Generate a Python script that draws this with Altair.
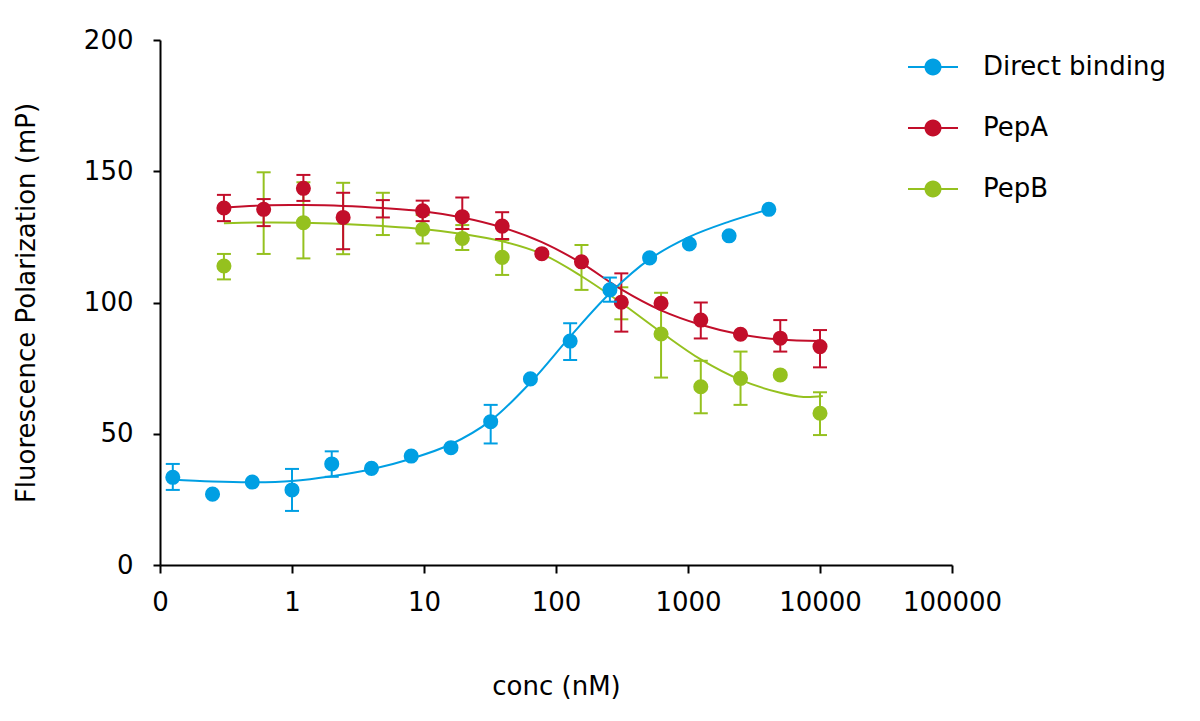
import altair as alt
import pandas as pd

# ---------------- data ----------------
series_names = ["Direct binding", "PepA", "PepB"]
series_colors = ["#009FE3", "#C20E2A", "#95C11F"]
draw_order = ["PepB", "PepA", "Direct binding"]

db_conc = [0.125, 0.25, 0.5, 1, 2, 4, 8, 16, 32, 64, 128, 256, 512, 1024, 2048, 4096]
db_value = [33.4, 27.0, 31.6, 28.6, 38.5, 36.8, 41.5, 44.7, 54.6, 70.9, 85.3, 104.8, 117.0, 122.3, 125.4, 135.5]
db_lo = [28.6, None, None, 20.6, 33.6, None, None, None, 46.3, None, 78.1, 100.3, None, None, None, None]
db_hi = [38.5, None, None, 36.6, 43.3, None, None, None, 61.0, None, 92.1, 109.5, None, None, None, None]

pep_conc = [0.305, 0.61, 1.22, 2.44, 4.88, 9.77, 19.5, 39.1, 78.1, 156, 312.5, 625, 1250, 2500, 5000, 10000]
pepa_value = [136.0, 135.5, 143.5, 132.4, None, 134.9, 132.7, 129.1, 118.6, 115.5, 100.1, 99.7, 93.3, 87.9, 86.4, 83.2]
pepa_lo = [131.0, 129.1, 138.7, 120.3, 132.4, 131.0, 128.0, 124.2, None, None, 88.9, None, 86.3, None, 81.3, 75.3]
pepa_hi = [141.0, 139.4, 148.6, 141.8, 139.0, 138.8, 140.0, 134.4, None, None, 111.1, None, 100.0, None, 93.3, 89.5]

pepb_value = [113.9, None, 130.4, None, None, 127.9, 124.4, 117.2, None, None, None, 88.0, 67.9, 71.1, 72.4, 57.8]
pepb_lo = [108.8, 118.5, 116.8, 118.4, 125.7, 122.5, 120.0, 110.5, None, 104.8, 93.6, 71.4, 57.8, 61.0, None, 49.5]
pepb_hi = [118.5, 149.6, 145.8, 145.6, 141.8, 133.3, 129.5, 123.8, None, 121.9, 105.8, 103.7, 77.8, 81.3, None, 65.8]

# fitted curves
db_curve_conc = [0.12, 0.25, 0.5, 1, 2, 4, 8, 16, 32, 64, 128, 256, 512, 1024, 2048, 4096]
db_curve_value = [32.6, 31.8, 31.5, 32.0, 33.8, 36.5, 40.5, 46.0, 55.0, 69.5, 87.0, 103.5, 116.5, 125.0, 130.8, 135.5]
pepa_curve_conc = [0.305, 0.61, 1.22, 2.44, 4.88, 9.77, 19.5, 39.1, 78.1, 156, 312.5, 625, 1250, 2500, 5000, 10000]
pepa_curve_value = [136.2, 137.0, 137.1, 136.8, 136.0, 134.8, 132.4, 128.6, 123.0, 115.0, 105.0, 97.0, 91.5, 87.8, 85.9, 85.3]
pepb_curve_conc = [0.305, 0.61, 1.22, 2.44, 4.88, 9.77, 19.5, 39.1, 78.1, 156, 312.5, 625, 1250, 2500, 5000, 7500, 10500]
pepb_curve_value = [130.2, 130.5, 130.4, 129.9, 129.1, 128.0, 126.1, 123.3, 118.5, 110.0, 99.8, 88.7, 78.3, 70.5, 65.6, 64.0, 64.4]

x_tick_values = [0.1, 1, 10, 100, 1000, 10000, 100000]
y_tick_values = [0, 50, 100, 150, 200]

# ---------------- tables ----------------
def rows(name, conc, value, lo, hi):
    return pd.DataFrame({"series": name, "conc": conc, "value": value, "lo": lo, "hi": hi})

points = pd.concat([
    rows("Direct binding", db_conc, db_value, db_lo, db_hi),
    rows("PepA", pep_conc, pepa_value, pepa_lo, pepa_hi),
    rows("PepB", pep_conc, pepb_value, pepb_lo, pepb_hi),
], ignore_index=True)

curves = pd.concat([
    pd.DataFrame({"series": "Direct binding", "conc": db_curve_conc, "value": db_curve_value}),
    pd.DataFrame({"series": "PepA", "conc": pepa_curve_conc, "value": pepa_curve_value}),
    pd.DataFrame({"series": "PepB", "conc": pepb_curve_conc, "value": pepb_curve_value}),
], ignore_index=True)

FONT = "DejaVu Sans"
color_scale = alt.Scale(domain=series_names, range=series_colors)
color_of = dict(zip(series_names, series_colors))

x_enc = alt.X(
    "conc:Q",
    scale=alt.Scale(type="log", domain=[0.1, 100000]),
    axis=alt.Axis(
        values=x_tick_values,
        labelExpr="datum.value < 0.5 ? '0' : format(datum.value, 'd')",
        title="conc (nM)",
        grid=False,
        tickSize=8,
        labelPadding=16,
        titlePadding=58,
        labelFlush=False,
        labelOverlap=False,
    ),
)
y_enc = alt.Y(
    "value:Q",
    scale=alt.Scale(domain=[0, 200]),
    axis=alt.Axis(
        values=y_tick_values,
        title="Fluorescence Polarization (mP)",
        grid=False,
        tickSize=7,
        labelPadding=20,
        titlePadding=44,
    ),
)

legend_symbol = (
    "M-1,-0.04H-0.3V0.04H-1Z "
    "M0.3,-0.04H1V0.04H0.3Z "
    "M-0.34,0a0.34,0.34 0 1,1 0.68,0a0.34,0.34 0 1,1 -0.68,0Z"
)

legend_color = alt.Color(
    "series:N",
    scale=color_scale,
    legend=alt.Legend(
        title=None,
        orient="none",
        legendX=748,
        legendY=2,
        symbolType=legend_symbol,
        symbolSize=2500,
        symbolStrokeWidth=0,
        labelFont=FONT,
        labelFontSize=26,
        labelColor="#000000",
        labelOffset=25,
        labelLimit=400,
        rowPadding=23,
        padding=0,
    ),
)

layers = []
for name in draw_order:
    c = alt.value(color_of[name])
    base_p = alt.Chart(points).transform_filter(alt.datum.series == name)
    base_c = alt.Chart(curves).transform_filter(alt.datum.series == name)

    curve = base_c.mark_line(strokeWidth=2, interpolate="catmull-rom").encode(
        x=x_enc, y=y_enc, color=c
    )
    bars = base_p.transform_filter("isValid(datum.lo)")
    rule = bars.mark_rule(strokeWidth=2).encode(
        x=x_enc, y=alt.Y("lo:Q"), y2=alt.Y2("hi:Q"), color=c
    )
    cap_lo = bars.mark_tick(orient="horizontal", size=14, thickness=2, opacity=1).encode(
        x=x_enc, y=alt.Y("lo:Q"), color=c
    )
    cap_hi = bars.mark_tick(orient="horizontal", size=14, thickness=2, opacity=1).encode(
        x=x_enc, y=alt.Y("hi:Q"), color=c
    )
    pts = base_p.transform_filter("isValid(datum.value)").mark_point(
        filled=True, size=227, opacity=1
    ).encode(x=x_enc, y=y_enc, color=legend_color)
    layers += [curve, rule, cap_lo, cap_hi, pts]

chart = alt.layer(*layers).properties(
    width=792,
    height=525,
    autosize=alt.AutoSizeParams(type="none"),
    padding={"left": 152, "top": 32, "right": 232, "bottom": 140},
).configure_view(
    stroke=None
).configure_axis(
    labelFont=FONT,
    titleFont=FONT,
    labelFontSize=26,
    titleFontSize=26,
    titleFontWeight="normal",
    labelColor="#000000",
    titleColor="#000000",
    domainColor="#000000",
    tickColor="#000000",
    domainWidth=2,
    tickWidth=2,
)

chart.save("out.html", embed_options={"renderer": "svg", "actions": False})
